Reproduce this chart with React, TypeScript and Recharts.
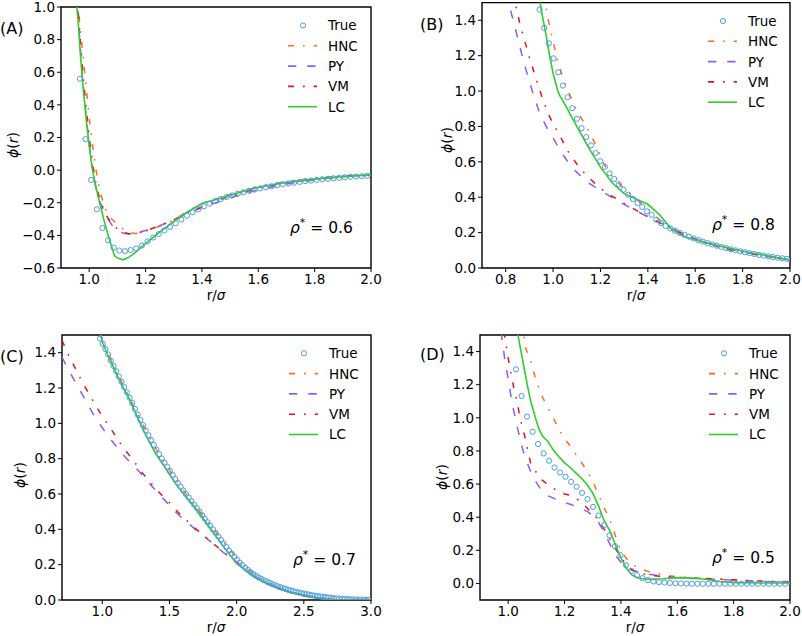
import React from 'react';
import { LineChart, Line, XAxis, YAxis, ReferenceArea } from 'recharts';

const FONT = '"DejaVu Sans", Verdana, sans-serif';
const COL = { true: '#4b9be6', hnc: '#ff6b1f', py: '#8c5cf4', vm: '#e5121d', lc: '#33cc2e' };
const DASH = { hnc: '6 9 1.7 9', py: '8.3 11', vm: '6 9 1.7 9' };
const NAMES = ['True', 'HNC', 'PY', 'VM', 'LC'];

type Pt = [number, number];

// ---------- (A) rho* = 0.6 ----------
const aXTicks = [1.0, 1.2, 1.4, 1.6, 1.8, 2.0];
const aYTicks = [-0.6, -0.4, -0.2, 0.0, 0.2, 0.4, 0.6, 0.8, 1.0];
const aTrueR0 = 0.967;
const aTrueDr = 0.02;
const aTrue = [0.56, 0.19, -0.06, -0.24, -0.355, -0.43, -0.475, -0.493, -0.497, -0.49, -0.48, -0.462,
  -0.437, -0.413, -0.392, -0.37, -0.348, -0.326, -0.303, -0.279, -0.258, -0.24, -0.222, -0.205, -0.19,
  -0.177, -0.165, -0.155, -0.145, -0.136, -0.127, -0.119, -0.112, -0.105, -0.099, -0.093, -0.087, -0.082,
  -0.077, -0.072, -0.068, -0.064, -0.06, -0.056, -0.053, -0.05, -0.047, -0.044, -0.041, -0.039, -0.037, -0.035];
const aHNC: Pt[] = [[0.955, 1.1], [0.96, 1.01], [0.97, 0.84], [0.98, 0.67], [0.99, 0.5], [1.0, 0.32], [1.01, 0.18],
  [1.02, 0.05], [1.03, -0.06], [1.04, -0.14], [1.05, -0.2], [1.06, -0.25], [1.08, -0.3], [1.1, -0.33], [1.12, -0.36],
  [1.14, -0.38], [1.16, -0.388], [1.18, -0.385], [1.2, -0.375], [1.25, -0.345], [1.3, -0.305], [1.35, -0.25],
  [1.4, -0.205], [1.45, -0.175], [1.5, -0.15], [1.55, -0.13], [1.6, -0.1], [1.7, -0.07], [1.8, -0.05], [1.9, -0.035], [2.0, -0.03]];
const aPY: Pt[] = [[0.955, 1.1], [0.96, 0.97], [0.97, 0.72], [0.98, 0.5], [0.99, 0.32], [1.0, 0.16], [1.01, 0.03],
  [1.02, -0.08], [1.03, -0.15], [1.04, -0.2], [1.05, -0.245], [1.06, -0.285], [1.08, -0.335], [1.1, -0.367], [1.12, -0.385],
  [1.14, -0.392], [1.16, -0.39], [1.18, -0.38], [1.2, -0.37], [1.25, -0.34], [1.3, -0.305], [1.35, -0.265], [1.4, -0.23],
  [1.45, -0.2], [1.5, -0.17], [1.55, -0.145], [1.6, -0.12], [1.7, -0.085], [1.8, -0.06], [1.9, -0.04], [2.0, -0.03]];
const aVM: Pt[] = [[0.955, 1.12], [0.96, 1.0], [0.97, 0.76], [0.98, 0.55], [0.99, 0.37], [1.0, 0.2], [1.01, 0.07],
  [1.02, -0.05], [1.03, -0.13], [1.04, -0.19], [1.05, -0.235], [1.06, -0.275], [1.08, -0.33], [1.1, -0.36], [1.12, -0.38],
  [1.14, -0.39], [1.16, -0.39], [1.18, -0.382], [1.2, -0.372], [1.25, -0.342], [1.3, -0.305], [1.35, -0.26], [1.4, -0.225],
  [1.45, -0.19], [1.5, -0.16], [1.55, -0.135], [1.6, -0.11], [1.7, -0.078], [1.8, -0.055], [1.9, -0.038], [2.0, -0.03]];
const aLC: Pt[] = [[0.95, 1.1], [0.96, 0.93], [0.97, 0.68], [0.98, 0.48], [0.99, 0.3], [1.0, 0.15], [1.01, 0.02],
  [1.02, -0.07], [1.03, -0.15], [1.04, -0.22], [1.05, -0.29], [1.06, -0.355], [1.07, -0.415], [1.08, -0.47], [1.09, -0.525],
  [1.1, -0.538], [1.12, -0.55], [1.14, -0.535], [1.16, -0.51], [1.18, -0.48], [1.2, -0.45], [1.25, -0.38], [1.3, -0.315],
  [1.35, -0.255], [1.4, -0.205], [1.45, -0.18], [1.5, -0.155], [1.55, -0.128], [1.6, -0.105], [1.7, -0.075], [1.8, -0.055],
  [1.9, -0.04], [2.0, -0.03]];

// ---------- (B) rho* = 0.8 ----------
const bXTicks = [0.8, 1.0, 1.2, 1.4, 1.6, 1.8, 2.0];
const bYTicks = [0.0, 0.2, 0.4, 0.6, 0.8, 1.0, 1.2, 1.4];
const bTrueR0 = 0.943;
const bTrueDr = 0.0197;
const bTrue = [1.46, 1.357, 1.27, 1.185, 1.106, 1.031, 0.965, 0.903, 0.843, 0.79, 0.74, 0.693, 0.65, 0.604, 0.572,
  0.535, 0.503, 0.473, 0.442, 0.414, 0.39, 0.367, 0.345, 0.32, 0.301, 0.273, 0.254, 0.238, 0.224, 0.211, 0.199, 0.188,
  0.177, 0.167, 0.158, 0.149, 0.141, 0.133, 0.126, 0.119, 0.112, 0.106, 0.1, 0.094, 0.089, 0.084, 0.079, 0.074, 0.07,
  0.066, 0.062, 0.058, 0.055, 0.052];
const bHNC: Pt[] = [[0.96, 1.55], [0.97, 1.47], [0.98, 1.4], [0.99, 1.34], [1.0, 1.28], [1.02, 1.17], [1.04, 1.08],
  [1.06, 1.01], [1.08, 0.95], [1.1, 0.89], [1.12, 0.845], [1.14, 0.8], [1.16, 0.75], [1.18, 0.695], [1.2, 0.63],
  [1.22, 0.575], [1.25, 0.515], [1.3, 0.45], [1.35, 0.39], [1.4, 0.335], [1.45, 0.27], [1.5, 0.225], [1.55, 0.19],
  [1.6, 0.163], [1.7, 0.12], [1.8, 0.09], [1.9, 0.067], [2.0, 0.048]];
const bPY: Pt[] = [[0.8, 1.56], [0.81, 1.5], [0.82, 1.46], [0.84, 1.355], [0.86, 1.25], [0.88, 1.145], [0.9, 1.055],
  [0.92, 0.965], [0.94, 0.89], [0.96, 0.83], [0.98, 0.775], [1.0, 0.735], [1.03, 0.665], [1.06, 0.605], [1.09, 0.555],
  [1.12, 0.515], [1.15, 0.48], [1.2, 0.438], [1.25, 0.398], [1.3, 0.36], [1.35, 0.323], [1.4, 0.29], [1.45, 0.258],
  [1.5, 0.225], [1.55, 0.192], [1.6, 0.165], [1.7, 0.12], [1.8, 0.09], [1.9, 0.066], [2.0, 0.047]];
const bVM: Pt[] = [[0.83, 1.56], [0.84, 1.5], [0.85, 1.44], [0.86, 1.38], [0.88, 1.285], [0.9, 1.19], [0.92, 1.105],
  [0.94, 1.02], [0.96, 0.94], [0.98, 0.87], [1.0, 0.815], [1.03, 0.745], [1.06, 0.665], [1.1, 0.588], [1.13, 0.54],
  [1.17, 0.487], [1.2, 0.45], [1.25, 0.405], [1.3, 0.365], [1.35, 0.327], [1.4, 0.29], [1.45, 0.255], [1.5, 0.222],
  [1.55, 0.19], [1.6, 0.163], [1.7, 0.118], [1.8, 0.088], [1.9, 0.065], [2.0, 0.047]];
const bLC: Pt[] = [[0.94, 1.55], [0.95, 1.46], [0.96, 1.39], [0.97, 1.32], [0.98, 1.24], [0.99, 1.17], [1.0, 1.1],
  [1.01, 1.05], [1.02, 1.0], [1.03, 0.97], [1.05, 0.925], [1.1, 0.8], [1.15, 0.68], [1.2, 0.57], [1.25, 0.48],
  [1.3, 0.42], [1.35, 0.39], [1.4, 0.36], [1.45, 0.3], [1.5, 0.22], [1.55, 0.18], [1.6, 0.16], [1.7, 0.125],
  [1.8, 0.095], [1.9, 0.07], [2.0, 0.045]];

// ---------- (C) rho* = 0.7 ----------
const cXTicks = [1.0, 1.5, 2.0, 2.5, 3.0];
const cYTicks = [0.0, 0.2, 0.4, 0.6, 0.8, 1.0, 1.2, 1.4];
const cTrueR0 = 0.983;
const cTrueDr = 0.02;
const cTrue = [1.48, 1.45, 1.42, 1.39, 1.355, 1.325, 1.295, 1.265, 1.235, 1.205, 1.175, 1.145, 1.115, 1.082, 1.05,
  1.02, 0.99, 0.96, 0.932, 0.905, 0.878, 0.851, 0.826, 0.801, 0.777, 0.754, 0.731, 0.708, 0.685, 0.663, 0.641, 0.62,
  0.6, 0.58, 0.56, 0.54, 0.52, 0.5, 0.48, 0.46, 0.44, 0.42, 0.4, 0.38, 0.36, 0.34, 0.32, 0.3, 0.28, 0.262, 0.245,
  0.228, 0.212, 0.197, 0.183, 0.17, 0.158, 0.147, 0.137, 0.128, 0.12, 0.112, 0.105, 0.098, 0.091, 0.085, 0.079,
  0.073, 0.068, 0.063, 0.058, 0.054, 0.05, 0.046, 0.042, 0.039, 0.036, 0.033, 0.03, 0.027, 0.024, 0.022, 0.02,
  0.018, 0.016, 0.014, 0.012, 0.01, 0.009, 0.008, 0.007, 0.006, 0.005, 0.004, 0.003, 0.003, 0.002, 0.002, 0.001,
  0.001, 0.001];
const cHNC: Pt[] = [[0.98, 1.52], [1.0, 1.475], [1.1, 1.3], [1.2, 1.15], [1.3, 0.995], [1.4, 0.855], [1.5, 0.735],
  [1.6, 0.625], [1.7, 0.525], [1.8, 0.43], [1.9, 0.33], [2.0, 0.24], [2.1, 0.165], [2.2, 0.11], [2.3, 0.072],
  [2.4, 0.045], [2.5, 0.025], [2.6, 0.012], [2.7, 0.005], [2.8, 0.001], [3.0, 0.0]];
const cPY: Pt[] = [[0.7, 1.375], [0.75, 1.3], [0.8, 1.232], [0.85, 1.165], [0.9, 1.095], [0.95, 1.03], [1.0, 0.975],
  [1.05, 0.922], [1.1, 0.873], [1.15, 0.826], [1.2, 0.785], [1.25, 0.748], [1.3, 0.705], [1.35, 0.66], [1.4, 0.619],
  [1.45, 0.577], [1.5, 0.535], [1.55, 0.495], [1.6, 0.46], [1.7, 0.395], [1.8, 0.335], [1.9, 0.27], [2.0, 0.215],
  [2.1, 0.148], [2.2, 0.1], [2.3, 0.068], [2.4, 0.042], [2.5, 0.023], [2.6, 0.011], [2.7, 0.004], [2.8, 0.001], [3.0, 0.0]];
const cVM: Pt[] = [[0.7, 1.47], [0.75, 1.385], [0.8, 1.31], [0.85, 1.235], [0.9, 1.168], [0.95, 1.102], [1.0, 1.04],
  [1.05, 0.985], [1.1, 0.927], [1.15, 0.868], [1.2, 0.82], [1.25, 0.77], [1.3, 0.718], [1.35, 0.673], [1.4, 0.628],
  [1.45, 0.588], [1.5, 0.55], [1.55, 0.508], [1.6, 0.47], [1.7, 0.4], [1.8, 0.335], [1.9, 0.272], [2.0, 0.212],
  [2.1, 0.148], [2.2, 0.102], [2.3, 0.067], [2.4, 0.042], [2.5, 0.024], [2.6, 0.012], [2.7, 0.005], [2.8, 0.001], [3.0, 0.0]];
const cLC: Pt[] = [[0.97, 1.56], [1.0, 1.46], [1.05, 1.37], [1.1, 1.29], [1.15, 1.21], [1.2, 1.14], [1.25, 1.055],
  [1.3, 0.97], [1.35, 0.895], [1.4, 0.825], [1.45, 0.77], [1.5, 0.712], [1.55, 0.655], [1.6, 0.605], [1.7, 0.515],
  [1.8, 0.41], [1.9, 0.305], [2.0, 0.205], [2.1, 0.15], [2.2, 0.105], [2.3, 0.072], [2.4, 0.045], [2.5, 0.028],
  [2.6, 0.012], [2.7, 0.003], [2.8, 0.0], [3.0, 0.0]];

// ---------- (D) rho* = 0.5 ----------
const dXTicks = [1.0, 1.2, 1.4, 1.6, 1.8, 2.0];
const dYTicks = [0.0, 0.2, 0.4, 0.6, 0.8, 1.0, 1.2, 1.4];
const dTrueR0 = 1.028;
const dTrueDr = 0.0195;
const dTrue = [1.293, 1.132, 1.007, 0.916, 0.842, 0.785, 0.741, 0.7, 0.67, 0.644, 0.614, 0.584, 0.547, 0.509, 0.462,
  0.41, 0.352, 0.29, 0.225, 0.17, 0.11, 0.075, 0.05, 0.032, 0.02, 0.012, 0.008, 0.005, 0.003, 0.001, 0.0, -0.001,
  -0.002, -0.002, -0.002, -0.002, -0.002, -0.002, -0.002, -0.002, -0.002, -0.002, -0.002, -0.002, -0.002, -0.002,
  -0.002, -0.002, -0.002, -0.002];
const dHNC: Pt[] = [[1.05, 1.58], [1.06, 1.43], [1.08, 1.34], [1.1, 1.22], [1.12, 1.13], [1.14, 1.065], [1.16, 1.0],
  [1.18, 0.93], [1.2, 0.875], [1.22, 0.83], [1.24, 0.78], [1.26, 0.73], [1.28, 0.68], [1.3, 0.615], [1.32, 0.54],
  [1.34, 0.46], [1.36, 0.385], [1.38, 0.29], [1.4, 0.195], [1.42, 0.15], [1.44, 0.115], [1.46, 0.095], [1.48, 0.083],
  [1.5, 0.07], [1.55, 0.052], [1.6, 0.04], [1.7, 0.03], [1.8, 0.02], [1.9, 0.012], [2.0, 0.006]];
const dPY: Pt[] = [[0.975, 1.52], [0.98, 1.45], [0.99, 1.33], [1.0, 1.235], [1.01, 1.13], [1.02, 1.04], [1.03, 0.96],
  [1.04, 0.888], [1.05, 0.82], [1.06, 0.76], [1.08, 0.675], [1.1, 0.61], [1.12, 0.555], [1.14, 0.53], [1.16, 0.515],
  [1.18, 0.5], [1.2, 0.487], [1.22, 0.478], [1.24, 0.465], [1.26, 0.448], [1.28, 0.435], [1.3, 0.41], [1.32, 0.37],
  [1.34, 0.31], [1.36, 0.24], [1.38, 0.17], [1.4, 0.13], [1.42, 0.098], [1.44, 0.08], [1.46, 0.07], [1.5, 0.055],
  [1.55, 0.043], [1.6, 0.033], [1.7, 0.027], [1.8, 0.02], [1.9, 0.012], [2.0, 0.006]];
const dVM: Pt[] = [[0.985, 1.52], [0.99, 1.47], [1.0, 1.36], [1.01, 1.27], [1.02, 1.18], [1.03, 1.11], [1.04, 1.02],
  [1.05, 0.945], [1.06, 0.88], [1.07, 0.8], [1.08, 0.725], [1.1, 0.67], [1.12, 0.625], [1.14, 0.598], [1.16, 0.575],
  [1.18, 0.553], [1.2, 0.54], [1.22, 0.532], [1.24, 0.515], [1.26, 0.49], [1.28, 0.455], [1.3, 0.42], [1.32, 0.385],
  [1.34, 0.33], [1.36, 0.27], [1.38, 0.21], [1.4, 0.16], [1.42, 0.11], [1.44, 0.082], [1.46, 0.065], [1.5, 0.05],
  [1.55, 0.042], [1.6, 0.036], [1.7, 0.03], [1.8, 0.022], [1.9, 0.014], [2.0, 0.01]];
const dLC: Pt[] = [[1.03, 1.55], [1.04, 1.45], [1.05, 1.36], [1.06, 1.27], [1.07, 1.18], [1.08, 1.1], [1.09, 1.04],
  [1.1, 0.98], [1.11, 0.93], [1.12, 0.895], [1.13, 0.875], [1.14, 0.86], [1.16, 0.805], [1.18, 0.765], [1.2, 0.728],
  [1.22, 0.7], [1.24, 0.668], [1.26, 0.635], [1.28, 0.597], [1.3, 0.545], [1.32, 0.47], [1.34, 0.38], [1.36, 0.32],
  [1.38, 0.235], [1.4, 0.155], [1.42, 0.09], [1.44, 0.05], [1.46, 0.033], [1.48, 0.028], [1.5, 0.025], [1.55, 0.028],
  [1.6, 0.035], [1.65, 0.033], [1.7, 0.025], [1.75, 0.012], [1.8, 0.005], [1.9, 0.003], [2.0, 0.003]];

const rows = (pts: Pt[]) => pts.map(([x, y]) => ({ x, y }));
const gridRows = (r0: number, dr: number, ys: number[]) => ys.map((y, i) => ({ x: r0 + i * dr, y }));
const fmt = (v: number) => (v < 0 ? '\u2212' + Math.abs(v).toFixed(1) : v.toFixed(1));

const panels = [
  {
    id: 'A', rho: '0.6', left: 0, top: 0, width: 400, height: 310,
    margin: { top: 7, right: 29, bottom: 17, left: 11 },
    xDomain: [0.9, 2.0], yDomain: [-0.6, 1.0], xTicks: aXTicks, yTicks: aYTicks,
    tru: gridRows(aTrueR0, aTrueDr, aTrue), hnc: rows(aHNC), py: rows(aPY), vm: rows(aVM), lc: rows(aLC),
    letter: [0, 34], ylab: [18, 145], xlab: [216, 300], rhoAt: [290, 233], legend: [288, 25.5],
  },
  {
    id: 'B', rho: '0.8', left: 400, top: 0, width: 402, height: 310,
    margin: { top: 2.6, right: 12, bottom: 17, left: 32 },
    xDomain: [0.7, 2.0], yDomain: [0.0, 1.5], xTicks: bXTicks, yTicks: bYTicks,
    tru: gridRows(bTrueR0, bTrueDr, bTrue), hnc: rows(bHNC), py: rows(bPY), vm: rows(bVM), lc: rows(bLC),
    letter: [420, 30], ylab: [452, 140], xlab: [636, 300], rhoAt: [712, 230], legend: [708, 21],
  },
  {
    id: 'C', rho: '0.7', left: 0, top: 320, width: 400, height: 316,
    margin: { top: 15, right: 29, bottom: 11, left: 12 },
    xDomain: [0.7, 3.0], yDomain: [0.0, 1.5], xTicks: cXTicks, yTicks: cYTicks,
    tru: gridRows(cTrueR0, cTrueDr, cTrue), hnc: rows(cHNC), py: rows(cPY), vm: rows(cVM), lc: rows(cLC),
    letter: [0, 362], ylab: [25, 475], xlab: [216, 632], rhoAt: [293, 565], legend: [289, 353.3],
  },
  {
    id: 'D', rho: '0.5', left: 400, top: 320, width: 402, height: 316,
    margin: { top: 15, right: 12, bottom: 11, left: 30 },
    xDomain: [0.9, 2.0], yDomain: [-0.1, 1.5], xTicks: dXTicks, yTicks: dYTicks,
    tru: gridRows(dTrueR0, dTrueDr, dTrue), hnc: rows(dHNC), py: rows(dPY), vm: rows(dVM), lc: rows(dLC),
    letter: [420, 360], ylab: [447, 477], xlab: [635, 632], rhoAt: [712, 563], legend: [709, 353.3],
  },
];

const tickStyle = { fill: '#000', fontSize: 13.5, fontFamily: FONT };

function Panel({ p }: { p: any }) {
  const [x0, x1] = p.xDomain;
  const [y0, y1] = p.yDomain;
  return (
    <div style={{ position: 'absolute', left: p.left, top: p.top }}>
      <LineChart width={p.width} height={p.height} margin={p.margin}>
        <XAxis dataKey="x" type="number" domain={p.xDomain} ticks={p.xTicks} interval={0} allowDataOverflow
          axisLine={false} stroke="#000" tickSize={4} tick={tickStyle} tickFormatter={fmt} height={25} />
        <YAxis type="number" domain={p.yDomain} ticks={p.yTicks} interval={0} allowDataOverflow
          axisLine={false} stroke="#000" tickSize={4} tick={tickStyle} tickFormatter={fmt} width={50} />
        <Line data={p.tru} dataKey="y" stroke="none" isAnimationActive={false}
          dot={{ r: 2.6, stroke: COL.true, strokeWidth: 1, fill: 'none' }} />
        <Line data={p.hnc} dataKey="y" type="linear" stroke={COL.hnc} strokeWidth={1.5} strokeDasharray={DASH.hnc}
          dot={false} isAnimationActive={false} />
        <Line data={p.py} dataKey="y" type="linear" stroke={COL.py} strokeWidth={1.5} strokeDasharray={DASH.py}
          dot={false} isAnimationActive={false} />
        <Line data={p.vm} dataKey="y" type="linear" stroke={COL.vm} strokeWidth={1.5} strokeDasharray={DASH.vm}
          dot={false} isAnimationActive={false} />
        <Line data={p.lc} dataKey="y" type="linear" stroke={COL.lc} strokeWidth={1.6}
          dot={false} isAnimationActive={false} />
        <ReferenceArea x1={x0} x2={x1} y1={y0} y2={y1} fill="none" fillOpacity={0} stroke="#000"
          strokeWidth={1.4} ifOverflow="visible" />
      </LineChart>
    </div>
  );
}

function Legend({ at }: { at: number[] }) {
  const [lx, ly] = at;
  const gap = 20.3;
  const keys = ['true', 'hnc', 'py', 'vm', 'lc'] as const;
  return (
    <g>
      {keys.map((k, i) => {
        const y = ly + i * gap;
        return (
          <g key={k}>
            {k === 'true' ? (
              <circle cx={lx + 15} cy={y} r={2.6} fill="none" stroke={COL.true} strokeWidth={1} />
            ) : (
              <line x1={lx} x2={lx + 29} y1={y} y2={y} stroke={(COL as any)[k]} strokeWidth={1.6}
                strokeDasharray={(DASH as any)[k]} />
            )}
            <text x={lx + 40} y={y + 4.9} fontSize={13.5}>{NAMES[i]}</text>
          </g>
        );
      })}
    </g>
  );
}

export default function App() {
  return (
    <div style={{ position: 'absolute', left: 0, top: 0, width: 802, height: 636, background: '#fff', overflow: 'hidden' }}>
      {panels.map((p) => <Panel key={p.id} p={p} />)}
      <svg width={802} height={636} style={{ position: 'absolute', left: 0, top: 0, pointerEvents: 'none' }}
        fontFamily={FONT} fill="#000">
        {panels.map((p) => (
          <g key={p.id}>
            <text x={p.letter[0]} y={p.letter[1]} fontSize={16}>({p.id})</text>
            <text x={p.xlab[0]} y={p.xlab[1]} fontSize={13.5} textAnchor="middle">
              r/<tspan fontStyle="italic">σ</tspan>
            </text>
            <text transform={`translate(${p.ylab[0]},${p.ylab[1]}) rotate(-90)`} fontSize={14} textAnchor="middle">
              <tspan fontStyle="italic">ϕ</tspan>(<tspan fontStyle="italic">r</tspan>)
            </text>
            <text x={p.rhoAt[0]} y={p.rhoAt[1]} fontSize={15.5}>
              <tspan fontStyle="italic">ρ</tspan>
              <tspan fontSize={11} dy={-7}>*</tspan>
              <tspan dy={7}> = {p.rho}</tspan>
            </text>
            <Legend at={p.legend} />
          </g>
        ))}
      </svg>
    </div>
  );
}
